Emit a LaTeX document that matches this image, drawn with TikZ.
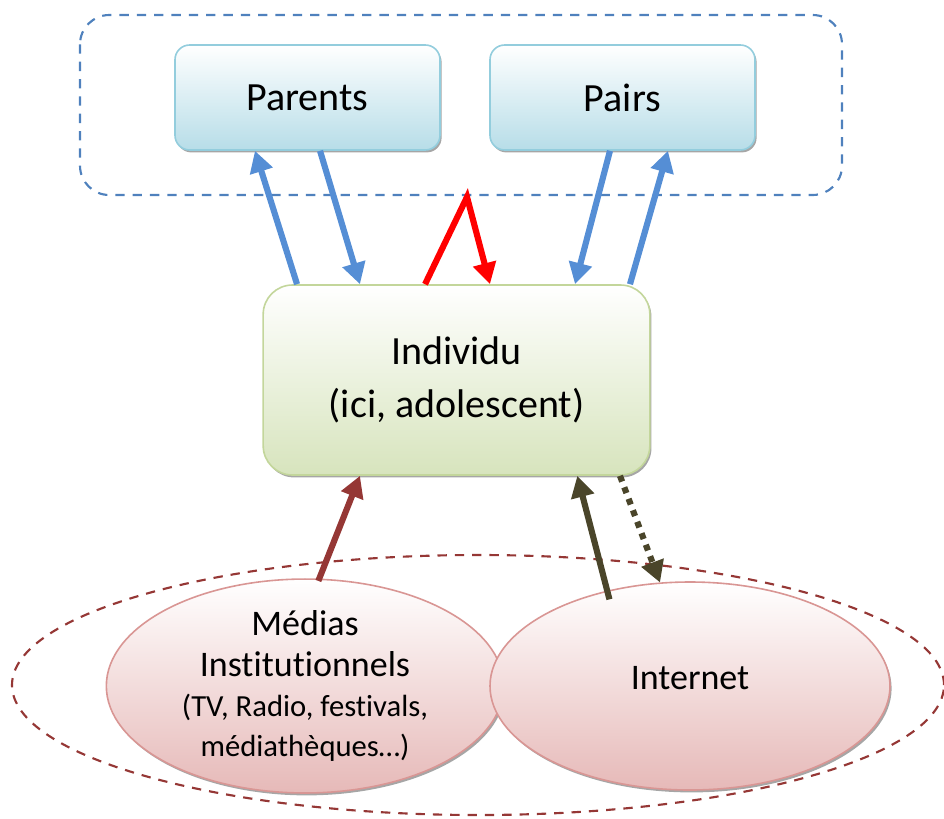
\documentclass[tikz,border=0pt]{standalone}
\usepackage{fontspec}
\setmainfont{Carlito}[Ligatures=NoCommon]
\usetikzlibrary{arrows.meta, positioning, calc, shapes.geometric, shadows}

\definecolor{groupblue}{HTML}{4F81BD}
\definecolor{arrowblue}{HTML}{558ED5}
\definecolor{boxblue}{HTML}{B7DDE8}
\definecolor{edgeblue}{HTML}{93CDDD}
\definecolor{boxgreen}{HTML}{D7E4BD}
\definecolor{edgegreen}{HTML}{C3D69B}
\definecolor{boxpink}{HTML}{E6B9B8}
\definecolor{edgepink}{HTML}{D99694}
\definecolor{darkred}{HTML}{953735}
\definecolor{olive}{HTML}{4A452A}

\begin{document}
\begin{tikzpicture}[
  x=0.75pt, y=-0.75pt,
  shade/.style = {drop shadow={shadow xshift=1.2pt, shadow yshift=-1.8pt, opacity=0.35, fill=black}},
  topbox/.style = {rectangle, rounded corners=11pt, draw=edgeblue, line width=1.2pt,
    top color=white, bottom color=boxblue, minimum width=198.75pt, minimum height=78.75pt,
    font=\fontsize{30}{36}\selectfont, shade},
  ego/.style = {rectangle, rounded corners=22pt, draw=edgegreen, line width=1.2pt,
    top color=white, bottom color=boxgreen, minimum width=290pt, minimum height=142.5pt,
    align=center, font=\fontsize{30}{40}\selectfont, shade},
  media/.style = {ellipse, draw=edgepink, line width=1.2pt, top color=white, bottom color=boxpink,
    minimum width=298pt, minimum height=156pt, inner sep=0pt, align=center,
    font=\fontsize{27}{33}\selectfont, shade},
  group/.style = {line width=1.6pt, dash pattern=on 7pt off 6pt},
  arrow/.style = {-{Triangle[length=16pt, width=17pt]}, line width=4.6pt},
  dots/.style = {dash pattern=on 4.6pt off 4.6pt}
]
\useasboundingbox (0,0) rectangle (944,818);

% Social circle (top)
\draw[group, groupblue, rounded corners=22pt] (80,15) rectangle (842,195);

\node[topbox] (par) at (307.5,97.5) {Parents};
\node[topbox] (pai) at (622.5,97.5) {Pairs};

% Individual (center)
\node[ego] (ind) at (456.5,380) {Individu\\(ici, adolescent)};

% Media circle (bottom)
\node[group, draw=darkred, ellipse, minimum width=699pt, minimum height=195pt] (env) at (478,685) {};

\node[media] (med) at (305,686) {Médias\\[-2pt]Institutionnels\\[-3pt]{\fontsize{23}{27}\selectfont (TV, Radio, festivals,}\\[-3pt]{\fontsize{23}{27}\selectfont médiathèques…)}};
\node[media, minimum width=300pt] (int) at (690,686) {\raisebox{12pt}{Internet}};

\coordinate (apex) at (467,197);

% Exchanges with parents and peers
\draw[arrow, arrowblue] ([xshift=-119.6pt]ind.north) -- ([xshift=-39.4pt]par.south);
\draw[arrow, arrowblue] ([xshift=9.4pt]par.south) -- ([xshift=-72.4pt]ind.north);
\draw[arrow, arrowblue] ([xshift=-9.4pt]pai.south) -- ([xshift=88.9pt]ind.north);
\draw[arrow, arrowblue] ([xshift=130.1pt]ind.north) -- ([xshift=34.1pt]pai.south);
\draw[arrow, red] ([xshift=-23.6pt]ind.north) -- (apex) -- ([xshift=25.1pt]ind.north);

% Media influence
\draw[arrow, darkred] ([xshift=10pt, yshift=-2pt]med.north) -- ([xshift=-72.4pt]ind.south);
\draw[arrow, olive] ([yshift=-7pt]int.130) -- ([xshift=90.6pt]ind.south);
\draw[arrow, olive, dots] ([xshift=122.6pt]ind.south) -- ([xshift=-22.5pt, yshift=-1pt]int.north);

\end{tikzpicture}
\end{document}
